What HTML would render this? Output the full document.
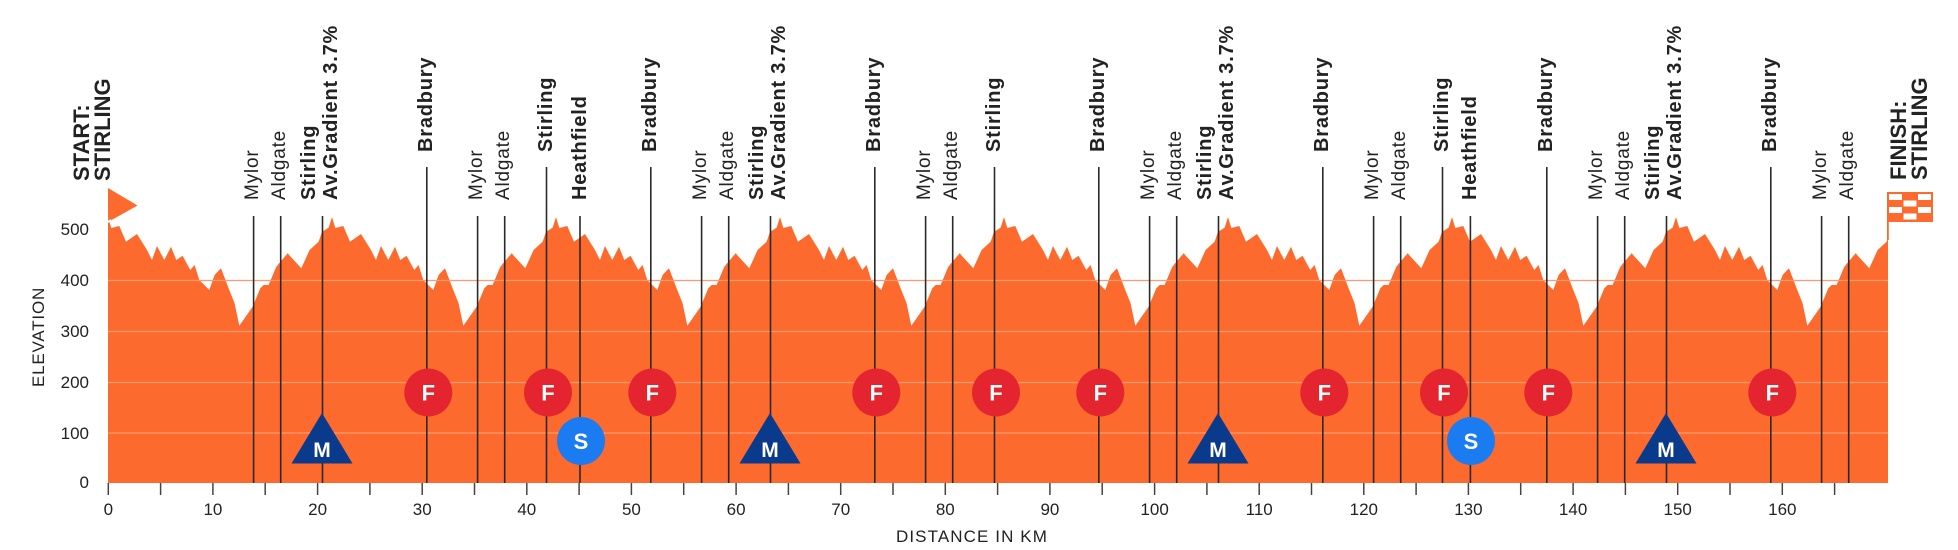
<!DOCTYPE html>
<html><head><meta charset="utf-8"><style>
html,body{margin:0;padding:0;background:#fff;}
svg{display:block;font-family:"Liberation Sans",Arial,sans-serif;}
.r{font-size:19px;letter-spacing:0.8px;fill:#222;}
.b{font-size:20px;font-weight:bold;letter-spacing:0.8px;fill:#222;}
.t{font-size:17px;fill:#222;}
</style></head><body>
<svg width="1958" height="550" viewBox="0 0 1958 550" xmlns="http://www.w3.org/2000/svg">
<defs>
<clipPath id="cp"><rect x="108" y="0" width="1780" height="483"/></clipPath>
<polygon id="per" points="0,217 3.3,228 11.3,226 18,241.7 29,234 39,250 44,260 49,246 56.3,260 63,246.7 68.3,260 74.6,255.7 82.3,270 86.6,265 91.3,280 101.3,290 106.6,275 113,268.3 120,286.7 126.6,303.3 131.3,325.7 144.6,306.7 152.3,288.3 155.6,285 160.6,285 168.3,266.7 179.6,253.3 193.3,268.3 201.6,250 210.6,241.7 214,231.7 220.6,227.7 224,217 224.5,483 -0.5,483"/>
</defs>
<g clip-path="url(#cp)" fill="#fd6a2e">
<use href="#per" x="108"/><use href="#per" x="332"/><use href="#per" x="556"/><use href="#per" x="780"/>
<use href="#per" x="1004"/><use href="#per" x="1228"/><use href="#per" x="1452"/><use href="#per" x="1676"/>
</g>
<!-- grid -->
<g stroke="#fd9a70" stroke-width="1.3">
<line x1="108" y1="433" x2="1888" y2="433"/><line x1="108" y1="382.5" x2="1888" y2="382.5"/>
<line x1="108" y1="331.5" x2="1888" y2="331.5"/><line x1="108" y1="280.5" x2="1888" y2="280.5"/>
</g>
<!-- start flag -->
<polygon points="108,188 137.5,205.5 108,222" fill="#fd6a2e"/>
<polyline points="108,222 111,220" stroke="#fff" stroke-width="2"/>
<!-- finish flag -->
<rect x="1887" y="192" width="1.8" height="48" fill="#fd6a2e"/>
<rect x="1887" y="192" width="46" height="30" fill="#fd6a2e"/>
<g fill="#fff">
<rect x="1889" y="194" width="13" height="6"/><rect x="1918" y="194" width="13" height="6"/>
<rect x="1903.5" y="200.5" width="13" height="6"/>
<rect x="1889" y="207" width="13" height="6"/><rect x="1918" y="207" width="13" height="6"/>
<rect x="1903.5" y="213.5" width="13" height="6"/>
</g>
<!-- y axis labels -->
<g class="t" text-anchor="end">
<text x="89" y="488">0</text><text x="89" y="439">100</text><text x="89" y="388">200</text>
<text x="89" y="337">300</text><text x="89" y="286">400</text><text x="89" y="235">500</text>
</g>
<text transform="translate(44,337) rotate(-90)" text-anchor="middle" style="font-size:17px;letter-spacing:0.8px;fill:#222">ELEVATION</text>
<!-- x ticks -->
<g stroke="#444" stroke-width="1.5">
<line x1="108.3" y1="483" x2="108.3" y2="495"/><line x1="160.6" y1="483" x2="160.6" y2="495"/><line x1="212.9" y1="483" x2="212.9" y2="495"/><line x1="265.2" y1="483" x2="265.2" y2="495"/><line x1="317.6" y1="483" x2="317.6" y2="495"/><line x1="369.9" y1="483" x2="369.9" y2="495"/><line x1="422.2" y1="483" x2="422.2" y2="495"/><line x1="474.5" y1="483" x2="474.5" y2="495"/><line x1="526.8" y1="483" x2="526.8" y2="495"/><line x1="579.1" y1="483" x2="579.1" y2="495"/><line x1="631.4" y1="483" x2="631.4" y2="495"/><line x1="683.7" y1="483" x2="683.7" y2="495"/><line x1="736.1" y1="483" x2="736.1" y2="495"/><line x1="788.4" y1="483" x2="788.4" y2="495"/><line x1="840.7" y1="483" x2="840.7" y2="495"/><line x1="893.0" y1="483" x2="893.0" y2="495"/><line x1="945.3" y1="483" x2="945.3" y2="495"/><line x1="997.6" y1="483" x2="997.6" y2="495"/><line x1="1049.9" y1="483" x2="1049.9" y2="495"/><line x1="1102.2" y1="483" x2="1102.2" y2="495"/><line x1="1154.6" y1="483" x2="1154.6" y2="495"/><line x1="1206.9" y1="483" x2="1206.9" y2="495"/><line x1="1259.2" y1="483" x2="1259.2" y2="495"/><line x1="1311.5" y1="483" x2="1311.5" y2="495"/><line x1="1363.8" y1="483" x2="1363.8" y2="495"/><line x1="1416.1" y1="483" x2="1416.1" y2="495"/><line x1="1468.4" y1="483" x2="1468.4" y2="495"/><line x1="1520.7" y1="483" x2="1520.7" y2="495"/><line x1="1573.1" y1="483" x2="1573.1" y2="495"/><line x1="1625.4" y1="483" x2="1625.4" y2="495"/><line x1="1677.7" y1="483" x2="1677.7" y2="495"/><line x1="1730.0" y1="483" x2="1730.0" y2="495"/><line x1="1782.3" y1="483" x2="1782.3" y2="495"/><line x1="1834.6" y1="483" x2="1834.6" y2="495"/>
</g>
<g class="t" text-anchor="middle">
<text x="108.3" y="515">0</text><text x="212.9" y="515">10</text><text x="317.6" y="515">20</text><text x="422.2" y="515">30</text><text x="526.8" y="515">40</text><text x="631.4" y="515">50</text><text x="736.1" y="515">60</text><text x="840.7" y="515">70</text><text x="945.3" y="515">80</text><text x="1049.9" y="515">90</text><text x="1154.6" y="515">100</text><text x="1259.2" y="515">110</text><text x="1363.8" y="515">120</text><text x="1468.4" y="515">130</text><text x="1573.1" y="515">140</text><text x="1677.7" y="515">150</text><text x="1782.3" y="515">160</text>
</g>
<text x="972" y="542" text-anchor="middle" style="font-size:17px;letter-spacing:1.1px;fill:#222">DISTANCE IN KM</text>
<!-- start / finish labels -->
<g style="font-size:22px;font-weight:bold;fill:#222">
<text transform="translate(89,181) rotate(-90)">START:</text>
<text transform="translate(110,181) rotate(-90)">STIRLING</text>
<text transform="translate(1906,180) rotate(-90)">FINISH:</text>
<text transform="translate(1927,180) rotate(-90)">STIRLING</text>
</g>
<!-- vertical marker lines -->
<g stroke="#2a2a2a" stroke-width="1.6">
<line x1="253.6" y1="216" x2="253.6" y2="483"/><line x1="280.7" y1="216" x2="280.7" y2="483"/><line x1="322.5" y1="216" x2="322.5" y2="483"/>
<line x1="426.8" y1="167" x2="426.8" y2="483"/><line x1="477.6" y1="216" x2="477.6" y2="483"/><line x1="504.7" y1="216" x2="504.7" y2="483"/><line x1="546.5" y1="167" x2="546.5" y2="483"/><line x1="580" y1="216" x2="580" y2="483"/>
<line x1="650.8" y1="167" x2="650.8" y2="483"/><line x1="701.6" y1="216" x2="701.6" y2="483"/><line x1="728.7" y1="216" x2="728.7" y2="483"/><line x1="770.5" y1="216" x2="770.5" y2="483"/>
<line x1="874.8" y1="167" x2="874.8" y2="483"/><line x1="925.6" y1="216" x2="925.6" y2="483"/><line x1="952.7" y1="216" x2="952.7" y2="483"/><line x1="994.5" y1="167" x2="994.5" y2="483"/>
<line x1="1098.8" y1="167" x2="1098.8" y2="483"/><line x1="1149.6" y1="216" x2="1149.6" y2="483"/><line x1="1176.7" y1="216" x2="1176.7" y2="483"/><line x1="1218.5" y1="216" x2="1218.5" y2="483"/>
<line x1="1322.8" y1="167" x2="1322.8" y2="483"/><line x1="1373.6" y1="216" x2="1373.6" y2="483"/><line x1="1400.7" y1="216" x2="1400.7" y2="483"/><line x1="1442.5" y1="167" x2="1442.5" y2="483"/><line x1="1470.4" y1="216" x2="1470.4" y2="483"/>
<line x1="1546.8" y1="167" x2="1546.8" y2="483"/><line x1="1597.6" y1="216" x2="1597.6" y2="483"/><line x1="1624.7" y1="216" x2="1624.7" y2="483"/><line x1="1666.5" y1="216" x2="1666.5" y2="483"/>
<line x1="1770.8" y1="167" x2="1770.8" y2="483"/><line x1="1821.6" y1="216" x2="1821.6" y2="483"/><line x1="1848.7" y1="216" x2="1848.7" y2="483"/>
</g>
<!-- marker labels -->
<g class="r">
<text transform="translate(258,200) rotate(-90)">Mylor</text><text transform="translate(285,200) rotate(-90)">Aldgate</text>
<text transform="translate(482,200) rotate(-90)">Mylor</text><text transform="translate(509,200) rotate(-90)">Aldgate</text>
<text transform="translate(706,200) rotate(-90)">Mylor</text><text transform="translate(733,200) rotate(-90)">Aldgate</text>
<text transform="translate(930,200) rotate(-90)">Mylor</text><text transform="translate(957,200) rotate(-90)">Aldgate</text>
<text transform="translate(1154,200) rotate(-90)">Mylor</text><text transform="translate(1181,200) rotate(-90)">Aldgate</text>
<text transform="translate(1378,200) rotate(-90)">Mylor</text><text transform="translate(1405,200) rotate(-90)">Aldgate</text>
<text transform="translate(1602,200) rotate(-90)">Mylor</text><text transform="translate(1629,200) rotate(-90)">Aldgate</text>
<text transform="translate(1826,200) rotate(-90)">Mylor</text><text transform="translate(1853,200) rotate(-90)">Aldgate</text>
</g>
<g class="b">
<text transform="translate(315,200) rotate(-90)">Stirling</text><text transform="translate(337,200) rotate(-90)">Av.Gradient 3.7%</text>
<text transform="translate(763,200) rotate(-90)">Stirling</text><text transform="translate(785,200) rotate(-90)">Av.Gradient 3.7%</text>
<text transform="translate(1211,200) rotate(-90)">Stirling</text><text transform="translate(1233,200) rotate(-90)">Av.Gradient 3.7%</text>
<text transform="translate(1659,200) rotate(-90)">Stirling</text><text transform="translate(1681,200) rotate(-90)">Av.Gradient 3.7%</text>
<text transform="translate(432,152) rotate(-90)">Bradbury</text><text transform="translate(656,152) rotate(-90)">Bradbury</text>
<text transform="translate(880,152) rotate(-90)">Bradbury</text><text transform="translate(1104,152) rotate(-90)">Bradbury</text>
<text transform="translate(1328,152) rotate(-90)">Bradbury</text><text transform="translate(1552,152) rotate(-90)">Bradbury</text>
<text transform="translate(1776,152) rotate(-90)">Bradbury</text>
<text transform="translate(552,152) rotate(-90)">Stirling</text><text transform="translate(1000,152) rotate(-90)">Stirling</text>
<text transform="translate(1448,152) rotate(-90)">Stirling</text>
<text transform="translate(586,200) rotate(-90)">Heathfield</text><text transform="translate(1476,200) rotate(-90)">Heathfield</text>
</g>
<!-- F markers -->
<g fill="#e4252f">
<circle cx="428.3" cy="392.5" r="24"/><circle cx="548" cy="392.5" r="24"/><circle cx="652.3" cy="392.5" r="24"/>
<circle cx="876.3" cy="392.5" r="24"/><circle cx="996" cy="392.5" r="24"/><circle cx="1100.3" cy="392.5" r="24"/>
<circle cx="1324.3" cy="392.5" r="24"/><circle cx="1444" cy="392.5" r="24"/><circle cx="1548.3" cy="392.5" r="24"/>
<circle cx="1772.3" cy="392.5" r="24"/>
</g>
<g fill="#fff" style="font-size:22px;font-weight:bold" text-anchor="middle">
<text x="428.3" y="400.5">F</text><text x="548" y="400.5">F</text><text x="652.3" y="400.5">F</text>
<text x="876.3" y="400.5">F</text><text x="996" y="400.5">F</text><text x="1100.3" y="400.5">F</text>
<text x="1324.3" y="400.5">F</text><text x="1444" y="400.5">F</text><text x="1548.3" y="400.5">F</text>
<text x="1772.3" y="400.5">F</text>
</g>
<!-- S markers -->
<circle cx="581" cy="441" r="24" fill="#1a7cf0"/><circle cx="1471" cy="441" r="24" fill="#1a7cf0"/>
<g fill="#fff" style="font-size:22px;font-weight:bold" text-anchor="middle">
<text x="581" y="449">S</text><text x="1471" y="449">S</text>
</g>
<!-- M markers -->
<g fill="#0a3a8c">
<polygon points="322,413 352.5,463.5 291.5,463.5"/><polygon points="770,413 800.5,463.5 739.5,463.5"/>
<polygon points="1218,413 1248.5,463.5 1187.5,463.5"/><polygon points="1666,413 1696.5,463.5 1635.5,463.5"/>
</g>
<g fill="#fff" style="font-size:21px;font-weight:bold" text-anchor="middle">
<text x="322" y="457">M</text><text x="770" y="457">M</text><text x="1218" y="457">M</text><text x="1666" y="457">M</text>
</g>
</svg>
</body></html>
